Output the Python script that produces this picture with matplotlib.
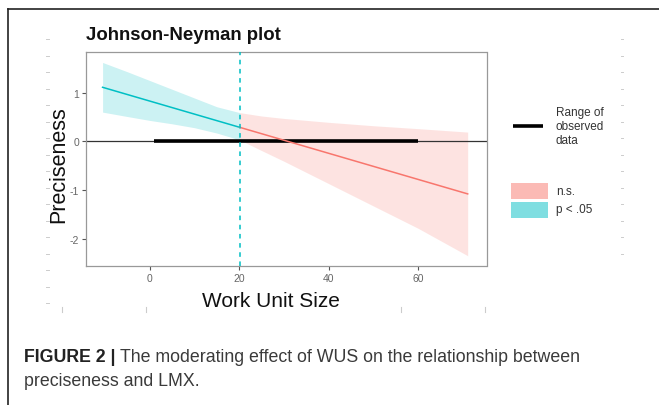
import numpy as np
import matplotlib
matplotlib.use("Agg")
from matplotlib import pyplot as plt
from matplotlib.lines import Line2D
from matplotlib.patches import Rectangle

plt.rcParams['font.family'] = ['Liberation Sans', 'DejaVu Sans']
plt.rcParams['axes.unicode_minus'] = False

# Estimated readings: 95% band of the conditional slope
wus = [-10.5, -5, 0, 5, 10, 15, 20.1, 25, 30, 40, 50, 60, 71]
lower = [0.60, 0.51, 0.43, 0.36, 0.28, 0.17, 0.03, -0.19, -0.41, -0.87, -1.33, -1.79, -2.35]
upper = [1.62, 1.43, 1.25, 1.07, 0.89, 0.71, 0.59, 0.52, 0.47, 0.39, 0.32, 0.26, 0.19]
# the slope line itself is straight: start, Johnson-Neyman point, end
line_x = [-10.5, 20.1, 71]
line_y = [1.11, 0.288, -1.08]
jn_point = 20.1
observed = [1, 60]

x_ticks = [0, 20, 40, 60]
y_ticks = [1, 0, -1, -2]

red = '#F8766D'
cyan = '#00BFC4'

W, H = 659, 406
fig = plt.figure(figsize=(W / 100, H / 100), dpi=100)
ax = fig.add_axes([86 / W, 1 - 266.7 / H, (486.5 - 86) / W, (266.7 - 53) / H])

wus = np.array(wus)
lower = np.array(lower)
upper = np.array(upper)
sig = wus <= jn_point
ns = wus >= jn_point

ax.fill_between(wus[sig], lower[sig], upper[sig], color=cyan, alpha=0.2, lw=0)
ax.fill_between(wus[ns], lower[ns], upper[ns], color=red, alpha=0.2, lw=0)
ax.axhline(0, color='#333333', lw=0.9, zorder=2)
ax.plot(observed, [0, 0], color='black', lw=2.6, solid_capstyle='butt', zorder=3)
ax.plot(line_x[:2], line_y[:2], color=cyan, lw=1.1, zorder=4)
ax.plot(line_x[1:], line_y[1:], color=red, lw=1.1, zorder=4)
ax.axvline(jn_point, color=cyan, lw=1.1, ls=(0, (3, 3)), zorder=5)

ax.set_xlim(-14.2, 75.2)
ax.set_ylim(-2.555, 1.835)
ax.set_xticks(x_ticks)
ax.set_yticks(y_ticks)
ax.tick_params(colors='#555555', labelcolor='#666666', labelsize=7.5,
               length=3, width=0.8, pad=2)
for s in ax.spines.values():
    s.set_color('#999999')
    s.set_linewidth(0.9)

fig.text(59 / W, 1 - 165 / H, 'Preciseness', rotation=90, fontsize=15.5,
         ha='center', va='center', color='#111111')
fig.text(271 / W, 1 - 302 / H, 'Work Unit Size', fontsize=15,
         ha='center', va='center', color='#111111')
fig.text(86 / W, 1 - 35 / H, 'Johnson-Neyman plot', fontsize=13.4,
         fontweight='bold', ha='left', va='center', color='#111111')

# legends drawn by hand in figure pixels
def px(x, y):
    return x / W, 1 - y / H

fig.add_artist(Line2D([513 / W, 543 / W], [1 - 127 / H] * 2, color='black', lw=2.6,
                      solid_capstyle='butt'))
fig.text(*px(556, 127), 'Range of\nobserved\ndata', fontsize=8.5, ha='left',
         va='center', color='#333333', linespacing=1.2)
fig.add_artist(Rectangle(px(511, 200), 37 / W, 16 / H, color=red, alpha=0.5, lw=0))
fig.add_artist(Rectangle(px(511, 219), 37 / W, 16 / H, color=cyan, alpha=0.5, lw=0))
fig.text(*px(556, 192), 'n.s.', fontsize=8.5, ha='left', va='center', color='#333333')
fig.text(*px(556, 210), 'p < .05', fontsize=8.5, ha='left', va='center', color='#333333')

# faint page marks from the scanned figure
for y in np.arange(40, 306, 16.5):
    fig.add_artist(Line2D([46 / W, 49 / W], [1 - y / H] * 2, color='#cccccc', lw=0.7))
for y in np.arange(40, 256, 16.5):
    fig.add_artist(Line2D([621 / W, 623 / W], [1 - y / H] * 2, color='#cccccc', lw=0.7))
for x in [62, 146, 401, 485]:
    fig.add_artist(Line2D([x / W] * 2, [1 - 308 / H, 1 - 313 / H], color='#cccccc', lw=0.8))

# outer frame
fig.add_artist(Line2D([8 / W, 1], [1 - 10 / H] * 2, color='#222222', lw=1.2))
fig.add_artist(Line2D([8 / W] * 2, [0, 1 - 10 / H], color='#222222', lw=1.2))

# caption
r = fig.canvas.get_renderer()
t1 = fig.text(*px(24, 362), 'FIGURE 2 |', fontsize=12.8, fontweight='bold',
              ha='left', va='baseline', color='#222222')
bb = t1.get_window_extent(renderer=r)
fig.text(bb.x1 / W + 4 / W, 1 - 362 / H,
         'The moderating effect of WUS on the relationship between',
         fontsize=12.8, ha='left', va='baseline', color='#3a3a3a')
fig.text(*px(24, 386), 'preciseness and LMX.', fontsize=12.8, ha='left',
         va='baseline', color='#3a3a3a')

fig.savefig('out.png', dpi=100)
